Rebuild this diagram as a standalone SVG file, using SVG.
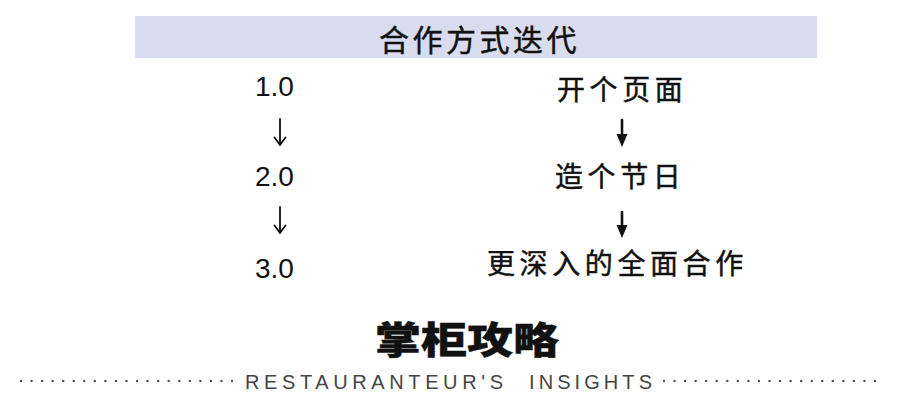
<svg xmlns="http://www.w3.org/2000/svg" width="900" height="407" viewBox="0 0 900 407">
<style>
.cjk{font-family:"Noto Sans CJK SC","Noto Sans",sans-serif;fill:#111;stroke:#111;stroke-width:0.45px}
.num{font-family:"Liberation Sans",Arial,sans-serif;font-size:28px;fill:#111}
.right{font-size:28px;letter-spacing:4.6px}
.arr{stroke:#111;fill:none;stroke-linecap:round;stroke-linejoin:round}
.dots{stroke:#555;stroke-width:2.5;stroke-linecap:round;stroke-dasharray:0 10.55}
.en{font-family:"Liberation Sans",Arial,sans-serif;font-size:20px;fill:#454545}
</style>
<rect width="900" height="407" fill="#fff"/>
<g id="header">
<rect x="135" y="16" width="682" height="42" fill="#d9dcee"/>
<text class="cjk" x="379" y="51" font-size="30" letter-spacing="3.5">合作方式迭代</text>
</g>
<g id="v1"><text class="num" x="255" y="96">1.0</text></g>
<g id="v2"><text class="num" x="255" y="186">2.0</text></g>
<g id="v3"><text class="num" x="255" y="278">3.0</text></g>
<g id="s1"><text class="cjk right" x="557" y="100">开个页面</text></g>
<g id="s2"><text class="cjk right" x="555" y="187">造个节日</text></g>
<g id="s3"><text class="cjk right" x="487" y="274">更深入的全面合作</text></g>
<g id="connectors">
<path class="arr" stroke-width="1.8" d="M280 119V145M274.5 137.5L280 145L285.5 137.5"/>
<path class="arr" stroke-width="1.8" d="M280 207V233M274.5 225.5L280 233L285.5 225.5"/>
<path class="arr" stroke-width="2.6" d="M622 120V139"/>
<path d="M616.5 134L622 147L627.5 134Z" fill="#111"/>
<path class="arr" stroke-width="2.6" d="M622 212V230"/>
<path d="M616.5 225L622 238L627.5 225Z" fill="#111"/>
</g>
<g id="footer">
<text class="cjk" x="375" y="354" font-size="37" font-weight="900" stroke-width="0" textLength="184" lengthAdjust="spacingAndGlyphs">掌柜攻略</text>
<line class="dots" x1="21" y1="381" x2="232.1" y2="381"/>
<line class="dots" x1="664" y1="381" x2="875.1" y2="381"/>
<text class="en" y="389"><tspan x="245" textLength="258" lengthAdjust="spacing">RESTAURANTEUR'S</tspan><tspan x="529" textLength="123" lengthAdjust="spacing">INSIGHTS</tspan></text>
</g>
</svg>
